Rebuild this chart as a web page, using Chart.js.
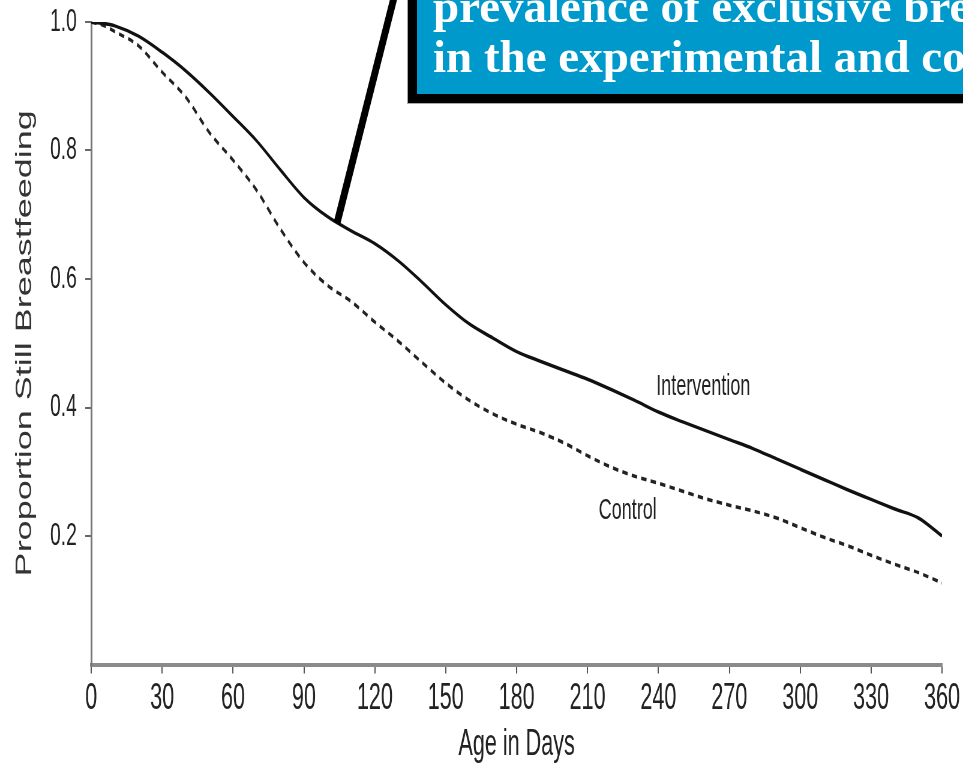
<!DOCTYPE html>
<html>
<head>
<meta charset="utf-8">
<script src="https://cdn.jsdelivr.net/npm/chart.js"></script>
<style>
  html, body { margin: 0; padding: 0; overflow: hidden; background: #fff; }
  #wrap { position: relative; width: 963px; height: 767px; overflow: hidden; }
  #callout {
    position: absolute; left: 408px; top: -60px; width: 760px; height: 163px;
    box-sizing: border-box; background: #0099cc; border: 9px solid #000;
    outline: 1px solid #aaa;
    padding: 32px 0 0 16px; color: #fff;
    font: bold 47px/50px "Liberation Serif", "DejaVu Serif", serif;
    white-space: nowrap;
  }
</style>
</head>
<body>
<div id="wrap">
  <canvas id="chart" width="1605" height="767" style="width:963px;height:767px;display:block"></canvas>
  <div id="callout">prevalence of exclusive breastfeeding<br>in the experimental and control groups</div>
</div>
<script>
// values (days of age, proportion still breastfeeding)
const days = [0, 5, 10, 20, 30, 40, 50, 60, 70, 80, 90, 100, 110, 120, 130, 140, 150, 160, 170, 180,
  190, 200, 210, 220, 230, 240, 250, 260, 270, 280, 290, 300, 310, 320, 330, 340, 350, 360];
const intervention = [1.000, 0.998, 0.994, 0.978, 0.953, 0.924, 0.890, 0.853, 0.815, 0.770, 0.727, 0.697,
  0.675, 0.655, 0.628, 0.595, 0.560, 0.530, 0.508, 0.487, 0.472, 0.458, 0.444, 0.428, 0.411, 0.393,
  0.378, 0.364, 0.350, 0.336, 0.320, 0.304, 0.288, 0.272, 0.257, 0.242, 0.228, 0.200];
const control = [1.000, 0.995, 0.985, 0.963, 0.922, 0.883, 0.828, 0.785, 0.738, 0.678, 0.626, 0.590,
  0.565, 0.533, 0.503, 0.470, 0.438, 0.411, 0.390, 0.374, 0.361, 0.345, 0.325, 0.307, 0.293, 0.282,
  0.270, 0.258, 0.248, 0.239, 0.228, 0.213, 0.198, 0.185, 0.170, 0.156, 0.143, 0.127];
const xTicks = [0, 30, 60, 90, 120, 150, 180, 210, 240, 270, 300, 330, 360];
const yTicks = [0.2, 0.4, 0.6, 0.8, 1.0];

// where the curve labels and the pointer sit, in data units
const seriesLabels = [
  { text: 'Intervention', x: 259, y: 0.433 },
  { text: 'Control', x: 227, y: 0.239 }
];
const pointer = { from: [104, 0.687], to: [128.6, 1.045] };

const SANS = '"Liberation Sans", Arial, sans-serif';

const toPoints = vals => vals.map((v, i) => ({ x: days[i], y: v }));

const annotate = {
  id: 'annotate',
  afterDatasetsDraw(chart) {
    const { ctx, scales: { x, y } } = chart;
    ctx.save();
    ctx.fillStyle = '#222';
    ctx.font = '30px ' + SANS;
    ctx.textAlign = 'center';
    ctx.textBaseline = 'middle';
    seriesLabels.forEach(l => ctx.fillText(l.text, x.getPixelForValue(l.x), y.getPixelForValue(l.y)));

    ctx.strokeStyle = '#000';
    ctx.lineWidth = 11;
    ctx.beginPath();
    ctx.moveTo(x.getPixelForValue(pointer.from[0]), y.getPixelForValue(pointer.from[1]));
    ctx.lineTo(x.getPixelForValue(pointer.to[0]), y.getPixelForValue(pointer.to[1]));
    ctx.stroke();
    ctx.restore();
  }
};

new Chart(document.getElementById('chart'), {
  type: 'line',
  data: {
    datasets: [{
      label: 'Intervention',
      data: toPoints(intervention),
      borderColor: '#111',
      borderWidth: 3.5,
      pointRadius: 0,
      cubicInterpolationMode: 'monotone'
    }, {
      label: 'Control',
      data: toPoints(control),
      borderColor: '#222',
      borderWidth: 3.5,
      borderDash: [9, 7],
      pointRadius: 0,
      cubicInterpolationMode: 'monotone'
    }]
  },
  options: {
    responsive: false,
    animation: false,
    devicePixelRatio: 1,
    layout: { padding: { left: 0, right: 35, top: 22, bottom: 0 } },
    plugins: { legend: { display: false }, tooltip: { enabled: false } },
    scales: {
      x: {
        type: 'linear',
        min: 0,
        max: 360,
        afterBuildTicks: s => { s.ticks = xTicks.map(v => ({ value: v })); },
        afterFit: s => { s.height = 102.5; s.paddingLeft = 0; s.paddingRight = 0; },
        border: { color: '#8a8a8a', width: 4 },
        grid: { drawOnChartArea: false, tickLength: 9, color: '#555', lineWidth: 2 },
        ticks: { color: '#222', font: { size: 36, family: SANS }, padding: 4, maxRotation: 0 },
        title: { display: true, text: 'Age in Days', color: '#222', font: { size: 36, family: SANS }, padding: 0 }
      },
      y: {
        min: 0,
        max: 1.0,
        afterBuildTicks: s => { s.ticks = yTicks.map(v => ({ value: v })); },
        afterFit: s => { s.width = 152; s.paddingTop = 0; s.paddingBottom = 0; },
        border: { color: '#777', width: 3 },
        grid: { drawOnChartArea: false, tickLength: 10, color: '#666', lineWidth: 2 },
        ticks: { color: '#222', font: { size: 32, family: SANS }, padding: 14, callback: v => v.toFixed(1) },
        title: { display: true, text: 'Proportion Still Breastfeeding', color: '#333', font: { size: 36, family: SANS }, padding: { top: 20, bottom: 0 } }
      }
    }
  },
  plugins: [annotate]
});
</script>
</body>
</html>
